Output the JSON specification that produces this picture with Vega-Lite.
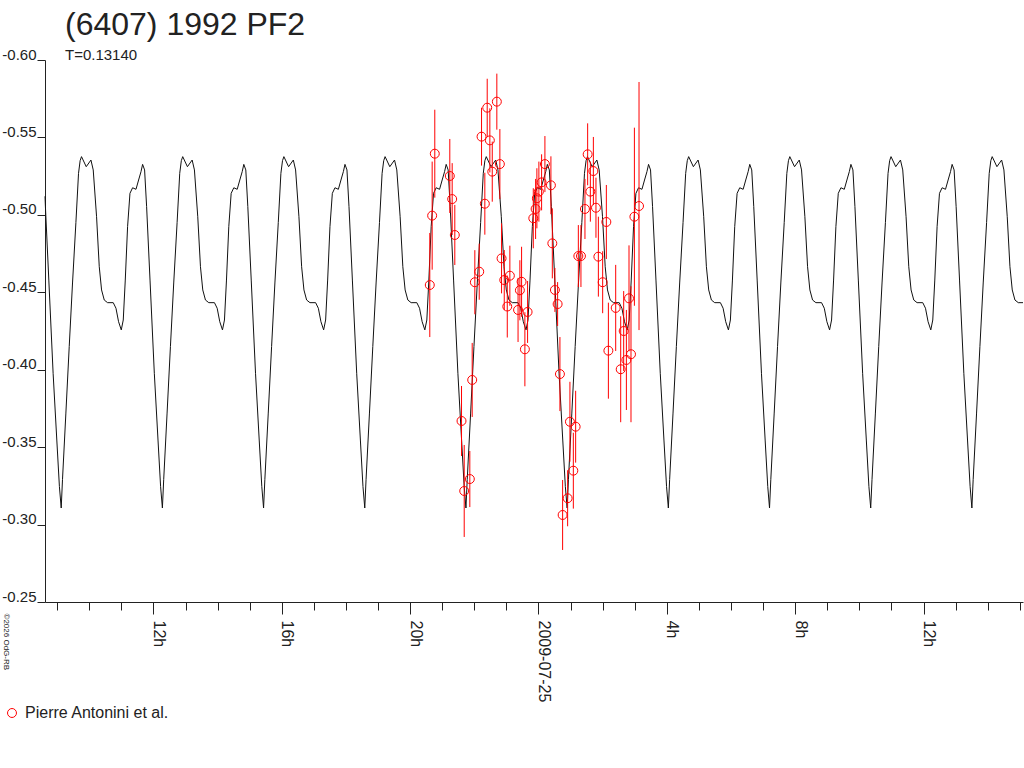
{
  "$schema": "https://vega.github.io/schema/vega-lite/v6.json",
  "width": 978,
  "height": 542,
  "autosize": "none",
  "padding": {"left": 45, "top": 60, "right": 1, "bottom": 166},
  "background": "white",
  "title": {
    "text": "(6407) 1992 PF2",
    "subtitle": "T=0.13140",
    "anchor": "start",
    "frame": "group",
    "dx": 20,
    "offset": -17,
    "font": "Liberation Sans",
    "fontSize": 32,
    "fontWeight": "normal",
    "color": "#222",
    "subtitleFont": "Liberation Sans",
    "subtitleFontSize": 15,
    "subtitleColor": "#222",
    "subtitlePadding": 6
  },
  "datasets": {
    "curve": [
      {"hour": 8.62, "mag": -0.512}, {"hour": 8.633, "mag": -0.5053}, {"hour": 8.739, "mag": -0.4579}, {"hour": 8.873, "mag": -0.3977}, {"hour": 8.988, "mag": -0.3546}, {"hour": 9.069, "mag": -0.3245},
      {"hour": 9.125, "mag": -0.3107}, {"hour": 9.165, "mag": -0.329}, {"hour": 9.271, "mag": -0.372}, {"hour": 9.375, "mag": -0.415}, {"hour": 9.478, "mag": -0.456}, {"hour": 9.583, "mag": -0.495}, {"hour": 9.665, "mag": -0.5268}, {"hour": 9.715, "mag": -0.535}, {"hour": 9.758, "mag": -0.5376}, {"hour": 9.905, "mag": -0.5311}, {"hour": 10.052, "mag": -0.5354}, {"hour": 10.123, "mag": -0.529}, {"hour": 10.227, "mag": -0.4988}, {"hour": 10.311, "mag": -0.4665}, {"hour": 10.383, "mag": -0.4515}, {"hour": 10.467, "mag": -0.445}, {"hour": 10.57, "mag": -0.4433}, {"hour": 10.747, "mag": -0.4433}, {"hour": 10.832, "mag": -0.4397}, {"hour": 10.913, "mag": -0.431}, {"hour": 10.997, "mag": -0.4257}, {"hour": 11.059, "mag": -0.4321}, {"hour": 11.122, "mag": -0.4579}, {"hour": 11.194, "mag": -0.4924}, {"hour": 11.268, "mag": -0.5139}, {"hour": 11.35, "mag": -0.5175}, {"hour": 11.456, "mag": -0.5165}, {"hour": 11.537, "mag": -0.5225}, {"hour": 11.612, "mag": -0.5279}, {"hour": 11.662, "mag": -0.5326}, {"hour": 11.724, "mag": -0.529}, {"hour": 11.787, "mag": -0.5053}, {"hour": 11.893, "mag": -0.4579}, {"hour": 12.027, "mag": -0.3977}, {"hour": 12.142, "mag": -0.3546}, {"hour": 12.223, "mag": -0.3245},
      {"hour": 12.279, "mag": -0.3107}, {"hour": 12.319, "mag": -0.329}, {"hour": 12.425, "mag": -0.372}, {"hour": 12.529, "mag": -0.415}, {"hour": 12.632, "mag": -0.456}, {"hour": 12.737, "mag": -0.495}, {"hour": 12.819, "mag": -0.5268}, {"hour": 12.869, "mag": -0.535}, {"hour": 12.912, "mag": -0.5376}, {"hour": 13.059, "mag": -0.5311}, {"hour": 13.206, "mag": -0.5354}, {"hour": 13.277, "mag": -0.529}, {"hour": 13.381, "mag": -0.4988}, {"hour": 13.465, "mag": -0.4665}, {"hour": 13.537, "mag": -0.4515}, {"hour": 13.621, "mag": -0.445}, {"hour": 13.724, "mag": -0.4433}, {"hour": 13.901, "mag": -0.4433}, {"hour": 13.986, "mag": -0.4397}, {"hour": 14.067, "mag": -0.431}, {"hour": 14.151, "mag": -0.4257}, {"hour": 14.213, "mag": -0.4321}, {"hour": 14.276, "mag": -0.4579}, {"hour": 14.348, "mag": -0.4924}, {"hour": 14.422, "mag": -0.5139}, {"hour": 14.504, "mag": -0.5175}, {"hour": 14.61, "mag": -0.5165}, {"hour": 14.691, "mag": -0.5225}, {"hour": 14.766, "mag": -0.5279}, {"hour": 14.816, "mag": -0.5326}, {"hour": 14.878, "mag": -0.529}, {"hour": 14.941, "mag": -0.5053}, {"hour": 15.047, "mag": -0.4579}, {"hour": 15.181, "mag": -0.3977}, {"hour": 15.296, "mag": -0.3546}, {"hour": 15.377, "mag": -0.3245},
      {"hour": 15.432, "mag": -0.3107}, {"hour": 15.472, "mag": -0.329}, {"hour": 15.578, "mag": -0.372}, {"hour": 15.682, "mag": -0.415}, {"hour": 15.785, "mag": -0.456}, {"hour": 15.89, "mag": -0.495}, {"hour": 15.972, "mag": -0.5268}, {"hour": 16.022, "mag": -0.535}, {"hour": 16.065, "mag": -0.5376}, {"hour": 16.212, "mag": -0.5311}, {"hour": 16.359, "mag": -0.5354}, {"hour": 16.43, "mag": -0.529}, {"hour": 16.534, "mag": -0.4988}, {"hour": 16.618, "mag": -0.4665}, {"hour": 16.69, "mag": -0.4515}, {"hour": 16.774, "mag": -0.445}, {"hour": 16.877, "mag": -0.4433}, {"hour": 17.054, "mag": -0.4433}, {"hour": 17.139, "mag": -0.4397}, {"hour": 17.22, "mag": -0.431}, {"hour": 17.304, "mag": -0.4257}, {"hour": 17.366, "mag": -0.4321}, {"hour": 17.429, "mag": -0.4579}, {"hour": 17.501, "mag": -0.4924}, {"hour": 17.575, "mag": -0.5139}, {"hour": 17.657, "mag": -0.5175}, {"hour": 17.763, "mag": -0.5165}, {"hour": 17.844, "mag": -0.5225}, {"hour": 17.919, "mag": -0.5279}, {"hour": 17.969, "mag": -0.5326}, {"hour": 18.031, "mag": -0.529}, {"hour": 18.094, "mag": -0.5053}, {"hour": 18.2, "mag": -0.4579}, {"hour": 18.334, "mag": -0.3977}, {"hour": 18.449, "mag": -0.3546}, {"hour": 18.53, "mag": -0.3245},
      {"hour": 18.586, "mag": -0.3107}, {"hour": 18.626, "mag": -0.329}, {"hour": 18.732, "mag": -0.372}, {"hour": 18.836, "mag": -0.415}, {"hour": 18.939, "mag": -0.456}, {"hour": 19.044, "mag": -0.495}, {"hour": 19.126, "mag": -0.5268}, {"hour": 19.176, "mag": -0.535}, {"hour": 19.219, "mag": -0.5376}, {"hour": 19.366, "mag": -0.5311}, {"hour": 19.513, "mag": -0.5354}, {"hour": 19.584, "mag": -0.529}, {"hour": 19.688, "mag": -0.4988}, {"hour": 19.772, "mag": -0.4665}, {"hour": 19.844, "mag": -0.4515}, {"hour": 19.928, "mag": -0.445}, {"hour": 20.031, "mag": -0.4433}, {"hour": 20.208, "mag": -0.4433}, {"hour": 20.293, "mag": -0.4397}, {"hour": 20.374, "mag": -0.431}, {"hour": 20.458, "mag": -0.4257}, {"hour": 20.52, "mag": -0.4321}, {"hour": 20.583, "mag": -0.4579}, {"hour": 20.655, "mag": -0.4924}, {"hour": 20.729, "mag": -0.5139}, {"hour": 20.811, "mag": -0.5175}, {"hour": 20.917, "mag": -0.5165}, {"hour": 20.998, "mag": -0.5225}, {"hour": 21.073, "mag": -0.5279}, {"hour": 21.123, "mag": -0.5326}, {"hour": 21.185, "mag": -0.529}, {"hour": 21.248, "mag": -0.5053}, {"hour": 21.354, "mag": -0.4579}, {"hour": 21.488, "mag": -0.3977}, {"hour": 21.603, "mag": -0.3546}, {"hour": 21.684, "mag": -0.3245},
      {"hour": 21.739, "mag": -0.3107}, {"hour": 21.779, "mag": -0.329}, {"hour": 21.885, "mag": -0.372}, {"hour": 21.989, "mag": -0.415}, {"hour": 22.092, "mag": -0.456}, {"hour": 22.197, "mag": -0.495}, {"hour": 22.279, "mag": -0.5268}, {"hour": 22.329, "mag": -0.535}, {"hour": 22.372, "mag": -0.5376}, {"hour": 22.519, "mag": -0.5311}, {"hour": 22.666, "mag": -0.5354}, {"hour": 22.737, "mag": -0.529}, {"hour": 22.841, "mag": -0.4988}, {"hour": 22.925, "mag": -0.4665}, {"hour": 22.997, "mag": -0.4515}, {"hour": 23.081, "mag": -0.445}, {"hour": 23.184, "mag": -0.4433}, {"hour": 23.361, "mag": -0.4433}, {"hour": 23.446, "mag": -0.4397}, {"hour": 23.527, "mag": -0.431}, {"hour": 23.611, "mag": -0.4257}, {"hour": 23.673, "mag": -0.4321}, {"hour": 23.736, "mag": -0.4579}, {"hour": 23.808, "mag": -0.4924}, {"hour": 23.882, "mag": -0.5139}, {"hour": 23.964, "mag": -0.5175}, {"hour": 24.07, "mag": -0.5165}, {"hour": 24.151, "mag": -0.5225}, {"hour": 24.226, "mag": -0.5279}, {"hour": 24.276, "mag": -0.5326}, {"hour": 24.338, "mag": -0.529}, {"hour": 24.401, "mag": -0.5053}, {"hour": 24.507, "mag": -0.4579}, {"hour": 24.641, "mag": -0.3977}, {"hour": 24.756, "mag": -0.3546}, {"hour": 24.837, "mag": -0.3245},
      {"hour": 24.893, "mag": -0.3107}, {"hour": 24.933, "mag": -0.329}, {"hour": 25.039, "mag": -0.372}, {"hour": 25.143, "mag": -0.415}, {"hour": 25.246, "mag": -0.456}, {"hour": 25.351, "mag": -0.495}, {"hour": 25.433, "mag": -0.5268}, {"hour": 25.483, "mag": -0.535}, {"hour": 25.526, "mag": -0.5376}, {"hour": 25.673, "mag": -0.5311}, {"hour": 25.82, "mag": -0.5354}, {"hour": 25.891, "mag": -0.529}, {"hour": 25.995, "mag": -0.4988}, {"hour": 26.079, "mag": -0.4665}, {"hour": 26.151, "mag": -0.4515}, {"hour": 26.235, "mag": -0.445}, {"hour": 26.338, "mag": -0.4433}, {"hour": 26.515, "mag": -0.4433}, {"hour": 26.6, "mag": -0.4397}, {"hour": 26.681, "mag": -0.431}, {"hour": 26.765, "mag": -0.4257}, {"hour": 26.827, "mag": -0.4321}, {"hour": 26.89, "mag": -0.4579}, {"hour": 26.962, "mag": -0.4924}, {"hour": 27.036, "mag": -0.5139}, {"hour": 27.118, "mag": -0.5175}, {"hour": 27.224, "mag": -0.5165}, {"hour": 27.305, "mag": -0.5225}, {"hour": 27.38, "mag": -0.5279}, {"hour": 27.43, "mag": -0.5326}, {"hour": 27.492, "mag": -0.529}, {"hour": 27.555, "mag": -0.5053}, {"hour": 27.661, "mag": -0.4579}, {"hour": 27.795, "mag": -0.3977}, {"hour": 27.91, "mag": -0.3546}, {"hour": 27.991, "mag": -0.3245},
      {"hour": 28.047, "mag": -0.3107}, {"hour": 28.087, "mag": -0.329}, {"hour": 28.193, "mag": -0.372}, {"hour": 28.297, "mag": -0.415}, {"hour": 28.4, "mag": -0.456}, {"hour": 28.505, "mag": -0.495}, {"hour": 28.587, "mag": -0.5268}, {"hour": 28.637, "mag": -0.535}, {"hour": 28.68, "mag": -0.5376}, {"hour": 28.827, "mag": -0.5311}, {"hour": 28.974, "mag": -0.5354}, {"hour": 29.045, "mag": -0.529}, {"hour": 29.149, "mag": -0.4988}, {"hour": 29.233, "mag": -0.4665}, {"hour": 29.305, "mag": -0.4515}, {"hour": 29.389, "mag": -0.445}, {"hour": 29.492, "mag": -0.4433}, {"hour": 29.669, "mag": -0.4433}, {"hour": 29.754, "mag": -0.4397}, {"hour": 29.835, "mag": -0.431}, {"hour": 29.919, "mag": -0.4257}, {"hour": 29.981, "mag": -0.4321}, {"hour": 30.044, "mag": -0.4579}, {"hour": 30.116, "mag": -0.4924}, {"hour": 30.19, "mag": -0.5139}, {"hour": 30.272, "mag": -0.5175}, {"hour": 30.378, "mag": -0.5165}, {"hour": 30.459, "mag": -0.5225}, {"hour": 30.534, "mag": -0.5279}, {"hour": 30.584, "mag": -0.5326}, {"hour": 30.646, "mag": -0.529}, {"hour": 30.709, "mag": -0.5053}, {"hour": 30.815, "mag": -0.4579}, {"hour": 30.949, "mag": -0.3977}, {"hour": 31.064, "mag": -0.3546}, {"hour": 31.145, "mag": -0.3245},
      {"hour": 31.2, "mag": -0.3107}, {"hour": 31.24, "mag": -0.329}, {"hour": 31.346, "mag": -0.372}, {"hour": 31.45, "mag": -0.415}, {"hour": 31.553, "mag": -0.456}, {"hour": 31.658, "mag": -0.495}, {"hour": 31.74, "mag": -0.5268}, {"hour": 31.79, "mag": -0.535}, {"hour": 31.833, "mag": -0.5376}, {"hour": 31.98, "mag": -0.5311}, {"hour": 32.127, "mag": -0.5354}, {"hour": 32.198, "mag": -0.529}, {"hour": 32.302, "mag": -0.4988}, {"hour": 32.386, "mag": -0.4665}, {"hour": 32.458, "mag": -0.4515}, {"hour": 32.542, "mag": -0.445}, {"hour": 32.645, "mag": -0.4433}, {"hour": 32.822, "mag": -0.4433}, {"hour": 32.907, "mag": -0.4397}, {"hour": 32.988, "mag": -0.431}, {"hour": 33.072, "mag": -0.4257}, {"hour": 33.134, "mag": -0.4321}, {"hour": 33.197, "mag": -0.4579}, {"hour": 33.269, "mag": -0.4924}, {"hour": 33.343, "mag": -0.5139}, {"hour": 33.425, "mag": -0.5175}, {"hour": 33.531, "mag": -0.5165}, {"hour": 33.612, "mag": -0.5225}, {"hour": 33.687, "mag": -0.5279}, {"hour": 33.737, "mag": -0.5326}, {"hour": 33.799, "mag": -0.529}, {"hour": 33.862, "mag": -0.5053}, {"hour": 33.968, "mag": -0.4579}, {"hour": 34.102, "mag": -0.3977}, {"hour": 34.217, "mag": -0.3546}, {"hour": 34.298, "mag": -0.3245},
      {"hour": 34.354, "mag": -0.3107}, {"hour": 34.394, "mag": -0.329}, {"hour": 34.5, "mag": -0.372}, {"hour": 34.604, "mag": -0.415}, {"hour": 34.707, "mag": -0.456}, {"hour": 34.812, "mag": -0.495}, {"hour": 34.894, "mag": -0.5268}, {"hour": 34.944, "mag": -0.535}, {"hour": 34.987, "mag": -0.5376}, {"hour": 35.134, "mag": -0.5311}, {"hour": 35.281, "mag": -0.5354}, {"hour": 35.352, "mag": -0.529}, {"hour": 35.456, "mag": -0.4988}, {"hour": 35.54, "mag": -0.4665}, {"hour": 35.612, "mag": -0.4515}, {"hour": 35.696, "mag": -0.445}, {"hour": 35.799, "mag": -0.4433}, {"hour": 35.976, "mag": -0.4433}, {"hour": 36.061, "mag": -0.4397}, {"hour": 36.142, "mag": -0.431}, {"hour": 36.226, "mag": -0.4257}, {"hour": 36.288, "mag": -0.4321}, {"hour": 36.351, "mag": -0.4579}, {"hour": 36.423, "mag": -0.4924}, {"hour": 36.497, "mag": -0.5139}, {"hour": 36.579, "mag": -0.5175}, {"hour": 36.685, "mag": -0.5165}, {"hour": 36.766, "mag": -0.5225}, {"hour": 36.841, "mag": -0.5279}, {"hour": 36.891, "mag": -0.5326}, {"hour": 36.953, "mag": -0.529}, {"hour": 37.016, "mag": -0.5053}, {"hour": 37.122, "mag": -0.4579}, {"hour": 37.256, "mag": -0.3977}, {"hour": 37.371, "mag": -0.3546}, {"hour": 37.452, "mag": -0.3245},
      {"hour": 37.507, "mag": -0.3107}, {"hour": 37.547, "mag": -0.329}, {"hour": 37.653, "mag": -0.372}, {"hour": 37.757, "mag": -0.415}, {"hour": 37.86, "mag": -0.456}, {"hour": 37.965, "mag": -0.495}, {"hour": 38.047, "mag": -0.5268}, {"hour": 38.097, "mag": -0.535}, {"hour": 38.14, "mag": -0.5376}, {"hour": 38.287, "mag": -0.5311}, {"hour": 38.434, "mag": -0.5354}, {"hour": 38.505, "mag": -0.529}, {"hour": 38.609, "mag": -0.4988}, {"hour": 38.693, "mag": -0.4665}, {"hour": 38.765, "mag": -0.4515}, {"hour": 38.849, "mag": -0.445}, {"hour": 38.952, "mag": -0.4433}, {"hour": 39.1, "mag": -0.4433}
    ],
    "obs": [
      {"hour": 20.612, "mag": -0.4547, "err": 0.0336},
      {"hour": 20.686, "mag": -0.4995, "err": 0.0349},
      {"hour": 20.768, "mag": -0.5395, "err": 0.0284},
      {"hour": 21.236, "mag": -0.5251, "err": 0.0239},
      {"hour": 21.31, "mag": -0.5102, "err": 0.0232},
      {"hour": 21.392, "mag": -0.487, "err": 0.0194},
      {"hour": 21.601, "mag": -0.3669, "err": 0.0226},
      {"hour": 21.685, "mag": -0.3217, "err": 0.0297},
      {"hour": 21.86, "mag": -0.3294, "err": 0.0181},
      {"hour": 21.934, "mag": -0.3934, "err": 0.0239},
      {"hour": 22.016, "mag": -0.4565, "err": 0.0207},
      {"hour": 22.153, "mag": -0.4633, "err": 0.0181},
      {"hour": 22.225, "mag": -0.5505, "err": 0.0187},
      {"hour": 22.328, "mag": -0.5072, "err": 0.02},
      {"hour": 22.402, "mag": -0.5692, "err": 0.0187},
      {"hour": 22.484, "mag": -0.5481, "err": 0.0207},
      {"hour": 22.559, "mag": -0.5279, "err": 0.0194},
      {"hour": 22.702, "mag": -0.5731, "err": 0.0181},
      {"hour": 22.796, "mag": -0.5328, "err": 0.0226},
      {"hour": 22.849, "mag": -0.4719, "err": 0.0226},
      {"hour": 22.933, "mag": -0.4579, "err": 0.0194},
      {"hour": 23.027, "mag": -0.4408, "err": 0.02},
      {"hour": 23.108, "mag": -0.4607, "err": 0.0194},
      {"hour": 23.363, "mag": -0.4386, "err": 0.0207},
      {"hour": 23.42, "mag": -0.4513, "err": 0.0194},
      {"hour": 23.473, "mag": -0.4568, "err": 0.0226},
      {"hour": 23.576, "mag": -0.4132, "err": 0.0239},
      {"hour": 23.66, "mag": -0.4373, "err": 0.02},
      {"hour": 23.838, "mag": -0.4978, "err": 0.0194},
      {"hour": 23.91, "mag": -0.5038, "err": 0.0194},
      {"hour": 23.95, "mag": -0.5107, "err": 0.0194},
      {"hour": 24.012, "mag": -0.515, "err": 0.0194},
      {"hour": 24.097, "mag": -0.521, "err": 0.0181},
      {"hour": 24.2, "mag": -0.5328, "err": 0.0181},
      {"hour": 24.387, "mag": -0.5191, "err": 0.0187},
      {"hour": 24.431, "mag": -0.4816, "err": 0.0226},
      {"hour": 24.512, "mag": -0.4515, "err": 0.0142},
      {"hour": 24.596, "mag": -0.4424, "err": 0.0142},
      {"hour": 24.668, "mag": -0.3972, "err": 0.0239},
      {"hour": 24.752, "mag": -0.3062, "err": 0.0226},
      {"hour": 24.908, "mag": -0.317, "err": 0.0181},
      {"hour": 24.98, "mag": -0.3664, "err": 0.0258},
      {"hour": 25.086, "mag": -0.3348, "err": 0.0245},
      {"hour": 25.158, "mag": -0.3632, "err": 0.0232},
      {"hour": 25.242, "mag": -0.4734, "err": 0.02},
      {"hour": 25.323, "mag": -0.4734, "err": 0.02},
      {"hour": 25.448, "mag": -0.5038, "err": 0.0194},
      {"hour": 25.532, "mag": -0.5391, "err": 0.02},
      {"hour": 25.616, "mag": -0.515, "err": 0.0194},
      {"hour": 25.71, "mag": -0.5283, "err": 0.022},
      {"hour": 25.791, "mag": -0.5046, "err": 0.0194},
      {"hour": 25.866, "mag": -0.473, "err": 0.0258},
      {"hour": 26.0, "mag": -0.4565, "err": 0.02},
      {"hour": 26.115, "mag": -0.4954, "err": 0.0239},
      {"hour": 26.178, "mag": -0.4123, "err": 0.031},
      {"hour": 26.406, "mag": -0.4399, "err": 0.0278},
      {"hour": 26.562, "mag": -0.4003, "err": 0.0342},
      {"hour": 26.655, "mag": -0.425, "err": 0.0258},
      {"hour": 26.739, "mag": -0.4063, "err": 0.0323},
      {"hour": 26.821, "mag": -0.4461, "err": 0.0342},
      {"hour": 26.883, "mag": -0.41, "err": 0.0439},
      {"hour": 26.989, "mag": -0.4988, "err": 0.0575},
      {"hour": 27.133, "mag": -0.5057, "err": 0.0801}
    ]
  },
  "encoding": {
    "x": {
      "field": "hour",
      "type": "quantitative",
      "scale": {"domain": [8.62, 39.1], "nice": false, "zero": false},
      "axis": {
        "values": [9, 10, 11, 12, 13, 14, 15, 16, 17, 18, 19, 20, 21, 22, 23, 24, 25, 26, 27, 28, 29, 30, 31, 32, 33, 34, 35, 36, 37, 38, 39],
        "labelExpr": "datum.value % 24 == 0 ? '2009-07-25' : (datum.value % 4 == 0 ? (datum.value % 24) + 'h' : '')",
        "labelAngle": 90,
        "labelAlign": "left",
        "labelBaseline": "alphabetic",
        "labelPadding": 6,
        "labelFont": "Liberation Sans",
        "labelFontSize": 16,
        "labelColor": "#222",
        "labelOverlap": false,
        "labelFlush": false,
        "labelBound": false,
        "tickSize": {"condition": {"test": "datum.value % 4 == 0", "value": 12}, "value": 8},
        "tickColor": "#222",
        "domainColor": "#222",
        "grid": false,
        "title": null
      }
    },
    "y": {
      "field": "mag",
      "type": "quantitative",
      "scale": {"domain": [-0.6, -0.25], "reverse": true, "nice": false, "zero": false},
      "axis": {
        "values": [-0.6, -0.55, -0.5, -0.45, -0.4, -0.35, -0.3, -0.25],
        "format": ".2f",
        "labelBaseline": "alphabetic",
        "labelOffset": -1,
        "labelPadding": 1,
        "labelFont": "Liberation Sans",
        "labelFontSize": 15,
        "labelColor": "#222",
        "labelOverlap": false,
        "labelFlush": false,
        "labelBound": false,
        "tickSize": 8,
        "tickColor": "#222",
        "domainColor": "#222",
        "grid": false,
        "title": "©2026 OdG-RB",
        "titleAngle": 90,
        "titleAlign": "left",
        "titleBaseline": "middle",
        "titleFont": "Liberation Sans",
        "titleFontSize": 8,
        "titleFontWeight": "normal",
        "titleColor": "#222",
        "titleX": -40,
        "titleY": 553
      }
    }
  },
  "layer": [
    {
      "data": {"name": "curve"},
      "mark": {"type": "line", "color": "#111", "strokeWidth": 1}
    },
    {
      "data": {"name": "obs"},
      "mark": {"type": "errorbar", "color": "#ff0000", "thickness": 1},
      "encoding": {
        "yError": {"field": "err"}
      }
    },
    {
      "data": {"name": "obs"},
      "mark": {"type": "point", "shape": "circle", "filled": false, "size": 80, "strokeWidth": 1, "opacity": 1},
      "encoding": {
        "color": {
          "datum": "Pierre Antonini et al.",
          "scale": {"range": ["#ff0000"]},
          "legend": {
            "title": null,
            "orient": "none",
            "legendX": -41,
            "legendY": 645,
            "labelFont": "Liberation Sans",
            "labelFontSize": 16,
            "labelColor": "#222",
            "symbolType": "circle",
            "symbolSize": 80,
            "symbolStrokeWidth": 1,
            "labelOffset": 5
          }
        }
      }
    }
  ],
  "config": {
    "view": {"stroke": null},
    "font": "Liberation Sans",
    "locale": {"number": {"decimal": ".", "thousands": ",", "grouping": [3], "currency": ["$", ""], "minus": "-"}}
  }
}
